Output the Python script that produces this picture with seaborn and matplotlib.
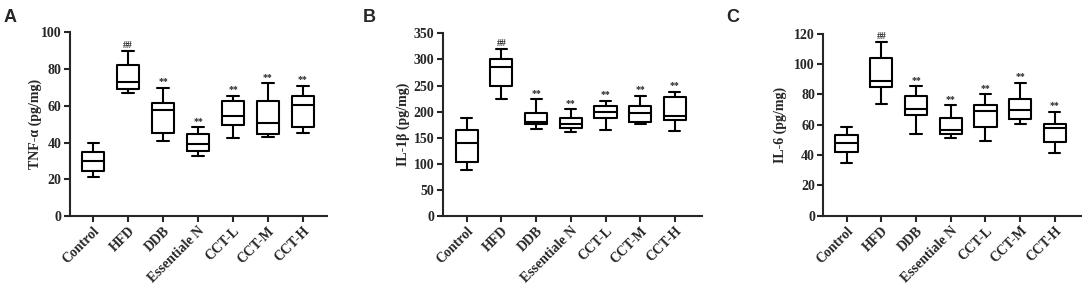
import numpy as np
import pandas as pd
import matplotlib
matplotlib.use("Agg")
import matplotlib.pyplot as plt
import seaborn as sns

groups = ["Control", "HFD", "DDB", "Essentiale N", "CCT-L", "CCT-M", "CCT-H"]

# five-number summaries: min, Q1, median, Q3, max
tnf = [
    [21.5, 24.4, 30.0, 35.1, 39.6],
    [67.1, 68.9, 72.9, 82.4, 89.8],
    [40.9, 45.3, 57.5, 61.6, 69.8],
    [32.7, 35.6, 39.3, 44.9, 48.5],
    [42.5, 49.5, 54.5, 62.4, 65.5],
    [43.1, 44.9, 50.7, 62.7, 72.2],
    [45.3, 48.5, 60.7, 65.6, 70.9],
]
il1b = [
    [87.5, 104.0, 139.0, 165.0, 187.0],
    [223.5, 249.0, 285.0, 300.0, 319.0],
    [167.0, 176.0, 181.0, 197.0, 224.0],
    [161.6, 168.6, 176.0, 187.0, 205.0],
    [165.0, 188.0, 198.6, 210.0, 221.0],
    [175.6, 181.0, 197.0, 211.0, 230.5],
    [163.0, 184.5, 192.0, 228.0, 238.0],
]
il6 = [
    [34.7, 42.0, 48.1, 53.4, 58.2],
    [73.4, 85.0, 88.8, 103.7, 114.3],
    [54.0, 66.2, 70.1, 78.7, 85.5],
    [51.0, 54.0, 56.5, 64.6, 72.7],
    [49.0, 58.2, 69.0, 73.2, 80.2],
    [60.7, 64.0, 69.7, 76.7, 87.7],
    [41.5, 48.8, 58.0, 60.2, 68.6],
]
marks = ["", "##", "**", "**", "**", "**", "**"]

# letter, data, y label, y max, y step, axes rect, xlim, letter x (px), ylabel x (axes)
panels = [
    ("A", tnf, "TNF-α (pg/mg)", 100, 20, [0.0646, 0.2653, 0.2371, 0.6248], (-0.66, 6.69), 4, -0.108),
    ("B", il1b, "IL-1β (pg/mg)", 350, 50, [0.4084, 0.2653, 0.2389, 0.6214], (-0.69, 6.77), 363, -0.126),
    ("C", il6, "IL-6 (pg/mg)", 120, 20, [0.7595, 0.2663, 0.2377, 0.6190], (-0.67, 6.75), 726, -0.140),
]

sns.set_theme(style="ticks")
plt.rcParams["font.family"] = ["Liberation Serif", "DejaVu Serif"]
plt.rcParams["font.weight"] = "bold"
plt.rcParams["axes.labelweight"] = "bold"

fig = plt.figure(figsize=(10.84, 2.94), dpi=100)

for letter, vals, ylabel, ymax, ystep, rect, xlim, lx, ylx in panels:
    ax = fig.add_axes(rect)
    rows = []
    for g, v in zip(groups, vals):
        for x in v:
            rows.append({"group": g, "value": x})
    df = pd.DataFrame(rows)
    sns.boxplot(data=df, x="group", y="value", order=groups, ax=ax,
                fill=False, color="black", linecolor="black", linewidth=1.5,
                width=0.64, whis=(0, 100), showfliers=False)
    for i, v in enumerate(vals):
        if marks[i]:
            ax.annotate(marks[i], (i, max(v)), xytext=(0, 1), textcoords="offset points",
                        ha="center", va="bottom", fontsize=7, fontweight="bold")
    ax.set_xlim(*xlim)
    ax.set_ylim(0, ymax)
    ax.set_yticks(np.arange(0, ymax + 1, ystep))
    ax.set_xlabel("")
    ax.set_ylabel(ylabel, fontsize=10, fontweight="bold")
    ax.yaxis.set_label_coords(ylx, 0.5)
    sns.despine(ax=ax)
    for s in ["left", "bottom"]:
        ax.spines[s].set_linewidth(1.5)
    ax.tick_params(axis="both", width=1.5, length=4, labelsize=10, direction="out", pad=2)
    ax.set_xticks(range(len(groups)))
    ax.set_xticklabels(groups, rotation=45, ha="right", rotation_mode="anchor", fontweight="bold")
    for t in ax.get_yticklabels():
        t.set_fontweight("bold")
    fig.text(lx / 1084, 1 - 18 / 294, letter, fontsize=13, fontweight="bold",
             family="Liberation Sans", ha="left", va="center")

fig.savefig("out.png", dpi=100)
